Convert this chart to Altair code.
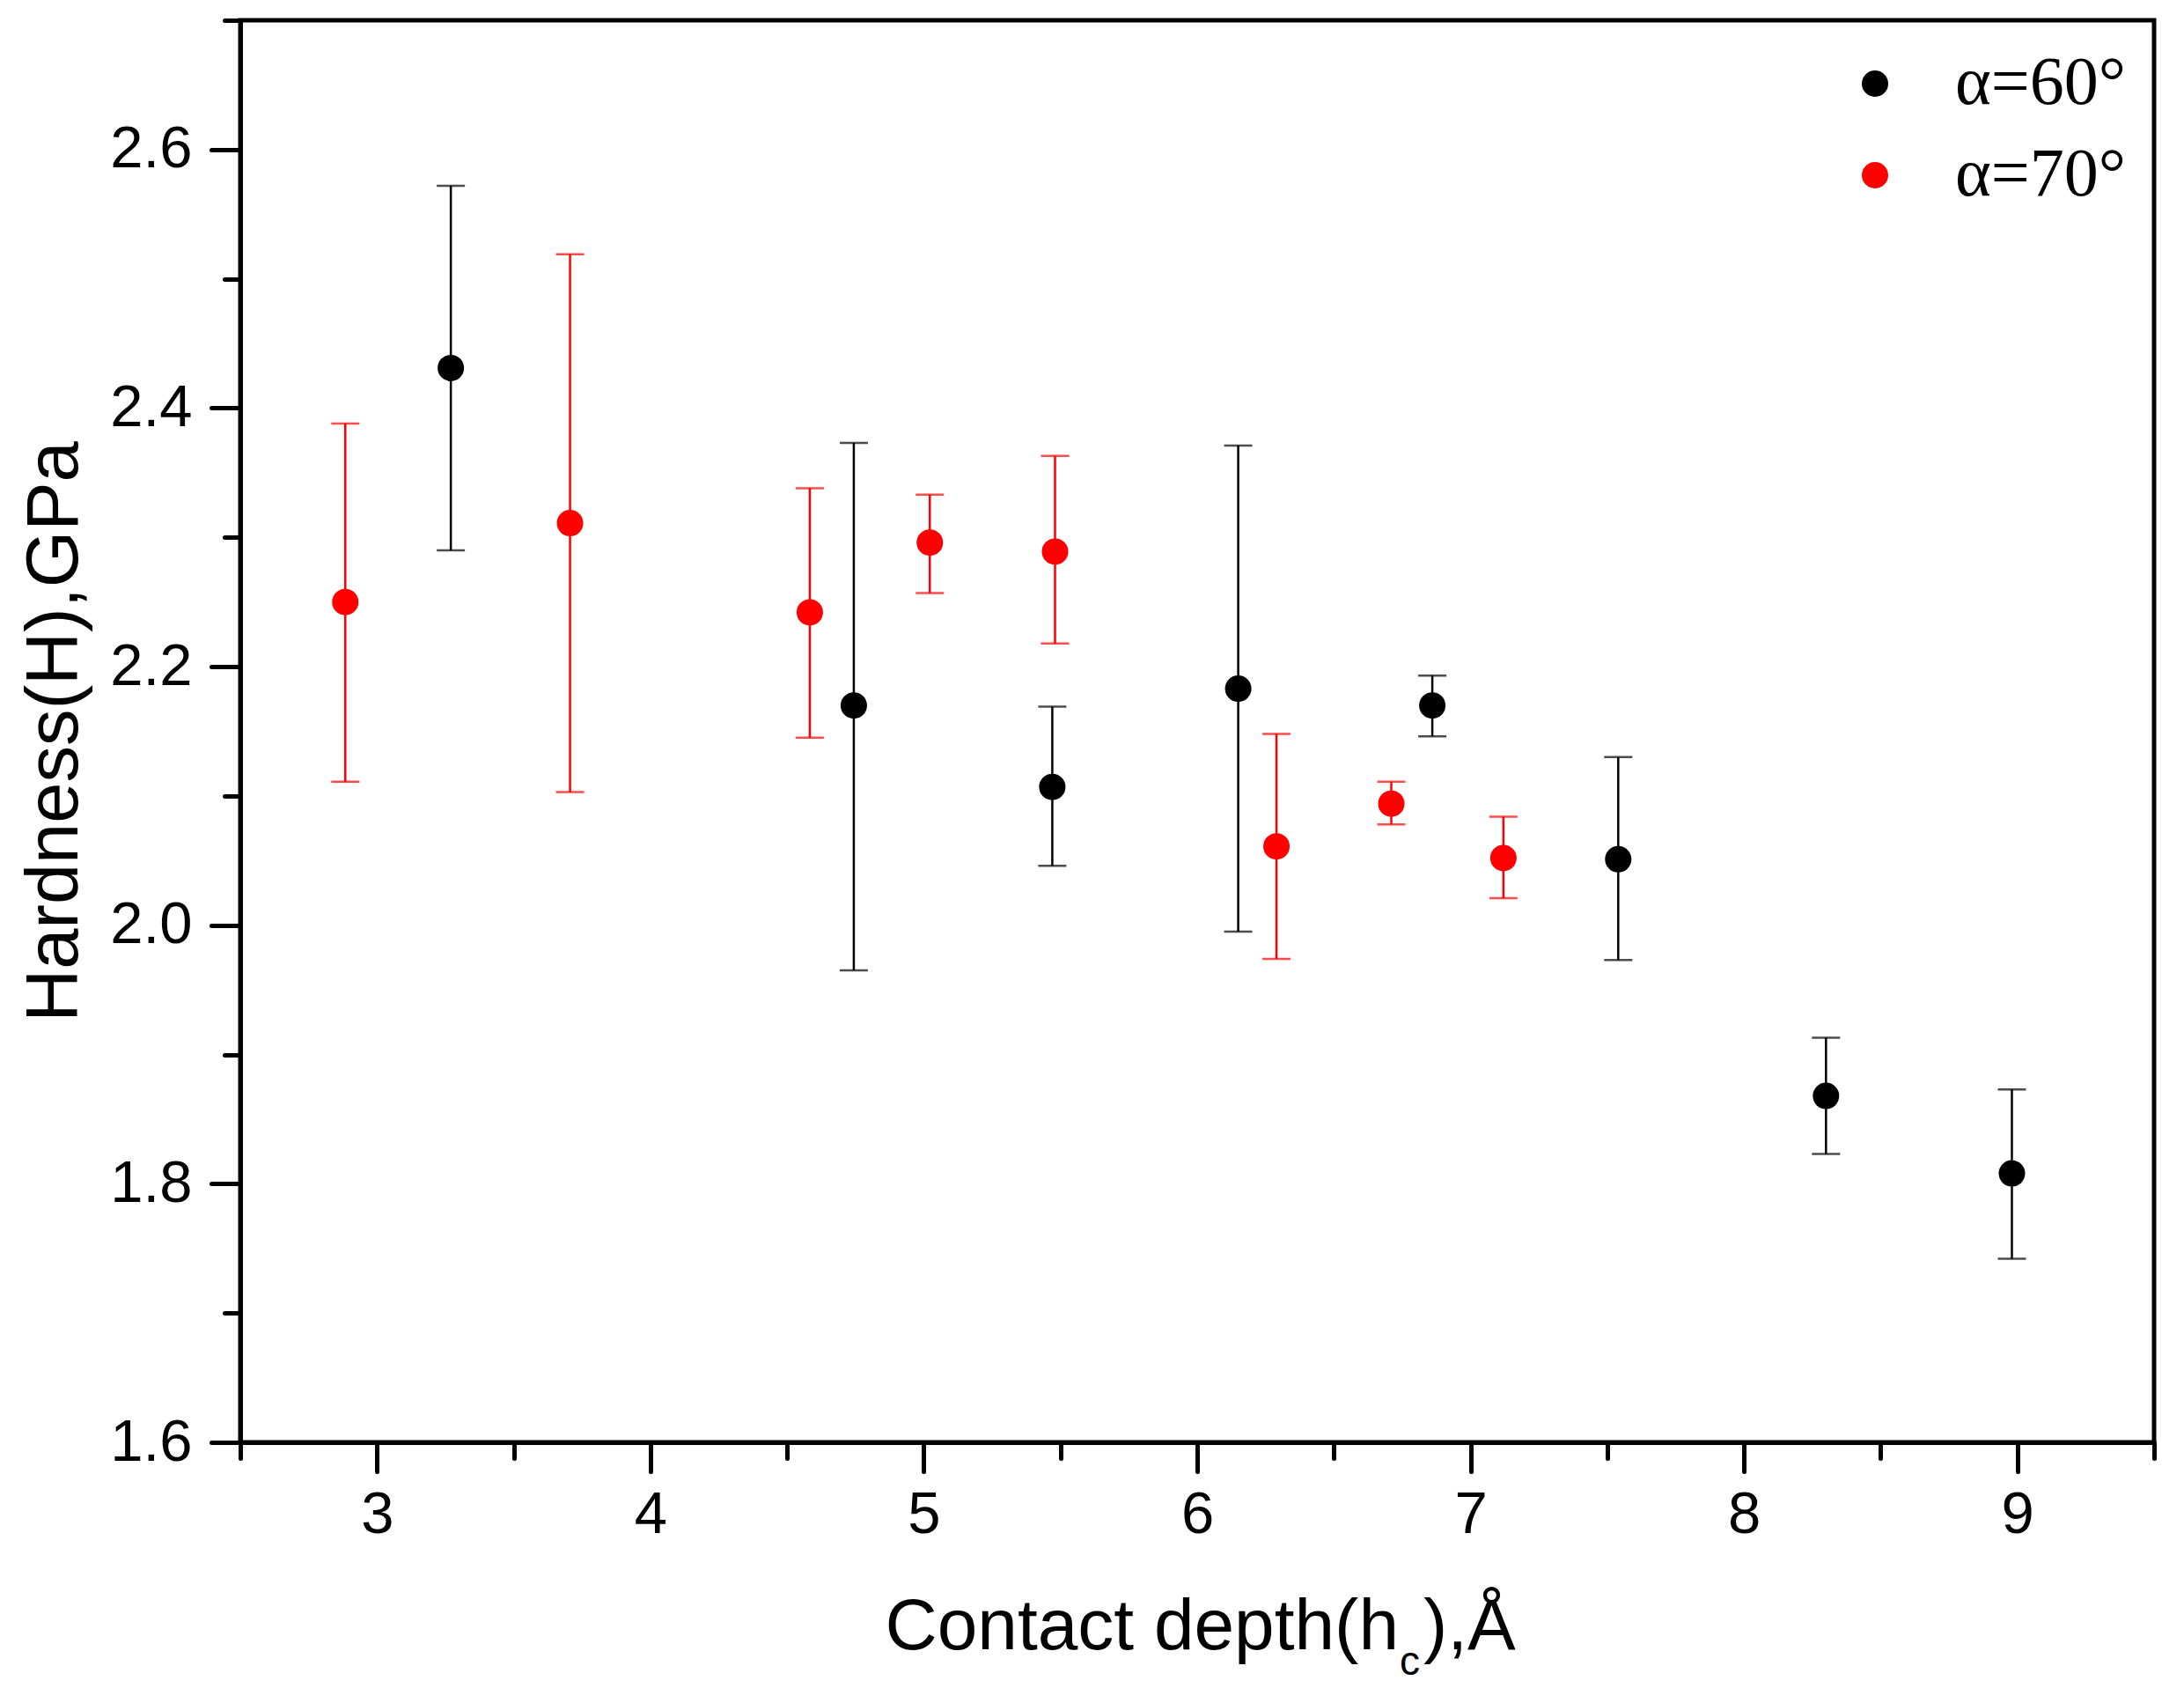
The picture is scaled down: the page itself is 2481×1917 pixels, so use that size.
import altair as alt
import pandas as pd

# alpha = 60 deg series (contact depth in Å, hardness in GPa)
depth_60 = [3.27, 4.744, 5.47, 6.15, 6.86, 7.54, 8.30, 8.98]
hard_60 = [2.431, 2.170, 2.107, 2.183, 2.170, 2.051, 1.868, 1.808]
low_60 = [2.290, 1.965, 2.046, 1.995, 2.146, 1.973, 1.823, 1.742]
high_60 = [2.572, 2.373, 2.169, 2.371, 2.193, 2.130, 1.913, 1.873]

# alpha = 70 deg series
depth_70 = [2.884, 3.706, 4.583, 5.022, 5.48, 6.29, 6.71, 7.12]
hard_70 = [2.250, 2.311, 2.242, 2.296, 2.289, 2.061, 2.094, 2.052]
low_70 = [2.111, 2.103, 2.145, 2.257, 2.218, 1.974, 2.078, 2.021]
high_70 = [2.388, 2.519, 2.338, 2.333, 2.363, 2.148, 2.111, 2.084]

series = ["α=60°", "α=70°"]
colors = ["black", "red"]

x_ticks = [2.5, 3, 3.5, 4, 4.5, 5, 5.5, 6, 6.5, 7, 7.5, 8, 8.5, 9, 9.5]
y_ticks = [1.6, 1.7, 1.8, 1.9, 2.0, 2.1, 2.2, 2.3, 2.4, 2.5, 2.6, 2.7]

data = pd.concat(
    [
        pd.DataFrame({"depth": depth_60, "hard": hard_60, "low": low_60,
                      "high": high_60, "serie": series[0]}),
        pd.DataFrame({"depth": depth_70, "hard": hard_70, "low": low_70,
                      "high": high_70, "serie": series[1]}),
    ],
    ignore_index=True,
)

x_axis = alt.Axis(
    values=x_ticks,
    tickSize={"condition": {"test": "datum.value % 1 === 0", "value": 33}, "value": 18},
    labelExpr="datum.value % 1 === 0 ? format(datum.value, 'd') : ''",
    labelPadding=16,
    title=None,
)
y_axis = alt.Axis(
    values=y_ticks,
    tickSize={"condition": {"test": "round(datum.value * 10) % 2 === 0", "value": 33}, "value": 18},
    labelExpr="round(datum.value * 10) % 2 === 0 ? format(datum.value, '.1f') : ''",
    labelPadding=22,
    title="Hardness(H),GPa",
    titleBaseline="alphabetic",
    titlePadding=37,
)

x_scale = alt.Scale(domain=[2.5, 9.5], nice=False, zero=False)
y_scale = alt.Scale(domain=[1.6, 2.7], nice=False, zero=False)
color_scale = alt.Scale(domain=series, range=colors)

base = alt.Chart(data)

barras = base.mark_errorbar(ticks={"size": 32}, thickness=2.5).encode(
    x=alt.X("depth:Q", scale=x_scale, axis=x_axis),
    y=alt.Y("low:Q", scale=y_scale, axis=y_axis),
    y2="high:Q",
    color=alt.Color("serie:N", scale=color_scale, legend=None),
)

puntos = base.mark_circle(size=900, opacity=1).encode(
    x=alt.X("depth:Q", scale=x_scale, axis=x_axis),
    y=alt.Y("hard:Q", scale=y_scale, axis=y_axis),
    color=alt.Color(
        "serie:N",
        scale=color_scale,
        legend=alt.Legend(
            orient="none",
            legendX=1818,
            legendY=33,
            title=None,
            symbolSize=900,
            symbolType="circle",
            symbolStrokeWidth=0,
            symbolOpacity=1,
            labelFont="Liberation Serif",
            labelFontSize=78,
            labelColor="black",
            labelOffset=52,
            labelLimit=0,
            rowPadding=26,
            padding=0,
        ),
    ),
)

# x title with subscript c, built from three pieces
titulo = pd.DataFrame({"t": ["Contact depth(h"]})
sub = pd.DataFrame({"t": ["c"]})
cola = pd.DataFrame({"t": ["),Å"]})

t1 = alt.Chart(titulo).mark_text(
    align="right", baseline="alphabetic", font="Liberation Sans", fontSize=82, color="black"
).encode(x=alt.value(1316), y=alt.value(1850), text="t:N")
t2 = alt.Chart(sub).mark_text(
    align="left", baseline="alphabetic", font="Liberation Sans", fontSize=46, color="black"
).encode(x=alt.value(1317), y=alt.value(1879), text="t:N")
t3 = alt.Chart(cola).mark_text(
    align="left", baseline="alphabetic", font="Liberation Sans", fontSize=82, color="black"
).encode(x=alt.value(1344), y=alt.value(1850), text="t:N")

chart = (
    alt.layer(barras, puntos, t1, t2, t3)
    .resolve_legend(color="independent")
    .properties(
        width=2174,
        height=1615,
        padding={"left": 265, "top": 15, "right": 26, "bottom": 274},
        autosize=alt.AutoSizeParams(type="none"),
        background="white",
    )
    .configure_view(stroke="black", strokeWidth=5)
    .configure_axis(
        grid=False,
        domainColor="black",
        domainWidth=5,
        tickColor="black",
        tickWidth=5,
        tickCap="round",
        labelFont="Liberation Sans",
        labelFontSize=67,
        labelColor="black",
        titleFont="Liberation Sans",
        titleFontSize=83,
        titleFontWeight="normal",
        titleColor="black",
    )
)

chart.save("out.html", embed_options={"renderer": "svg", "actions": False})
